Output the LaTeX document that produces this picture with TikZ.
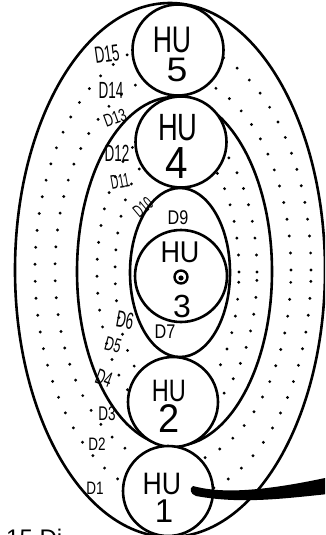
\documentclass[tikz,border=0pt]{standalone}
\usepackage{fontspec}
\setmainfont{Liberation Sans}
\begin{document}
\begin{tikzpicture}[x=1pt,y=-1pt,
  ring/.style={line width=2.6pt},
  dotring/.style={line width=3.2pt, line cap=round, dash pattern=on 0pt off 17pt},
  hucirc/.style={circle, draw, fill=white, line width=2.6pt, minimum size=91pt, inner sep=0pt},
  lbl/.style={inner sep=0pt, font=\fontsize{#1}{#1}\selectfont},
  dl/.style={inner sep=0pt, font=\fontsize{18}{18}\selectfont}
]
\useasboundingbox (0,0) rectangle (325,535);
\clip (0,0) rectangle (325,535);
% dotted rings
\draw[dotring] (173,270) ellipse [x radius=138pt, y radius=228pt];
\draw[dotring] (173,270) ellipse [x radius=118pt, y radius=195pt];
\draw[dotring] (177,272) ellipse [x radius=80pt, y radius=150pt];
\draw[dotring] (177,272) ellipse [x radius=62pt, y radius=130pt];
% solid ellipses
\draw[ring] (170,270) ellipse [x radius=155pt, y radius=267pt];
\draw[ring] (174.5,271.5) ellipse [x radius=97.5pt, y radius=174.5pt];
\draw[ring, fill=white] (180,272.5) ellipse [x radius=50pt, y radius=84.5pt];
% circles
\node[hucirc] (c5) at (178,50) {};
\node[hucirc] (c4) at (181,142) {};
\node[hucirc, minimum size=92pt] (c3) at (181,276) {};
\node[hucirc, minimum size=90pt] (c2) at (173,402) {};
\node[hucirc, minimum size=90pt] (c1) at (168,491) {};
% texts in circles
\node[lbl=37] (h5) at (172,40) {\scalebox{0.72}[1]{HU}};
\node[lbl=34] (n5) at (177,70) {\scalebox{1.1}[1]{5}};
\node[lbl=38] (h4) at (178,128) {\scalebox{0.72}[1]{HU}};
\node[lbl=45] (n4) at (177,163) {\scalebox{0.9}[1]{4}};
\node[lbl=30] (h3) at (180,252) {\scalebox{0.9}[1]{HU}};
\node[circle, draw, line width=2.4pt, minimum size=13pt, inner sep=0pt] (sym) at (181,277) {};
\fill (181,278) circle (2.6pt);
\node[lbl=32] (n3) at (182,306) {\scalebox{1}[1]{3}};
\node[lbl=31] (h2) at (169,391) {\scalebox{0.76}[1]{HU}};
\node[lbl=40] (n2) at (169,419) {\scalebox{0.95}[1]{2}};
\node[lbl=31] (h1) at (162,484) {\scalebox{0.86}[1]{HU}};
\node[lbl=33] (n1) at (164,511) {\scalebox{1}[1]{1}};
% D labels
\node[dl, rotate=8] (d15) at (107,54) {\scalebox{0.75}[1.3]{D15}};
\node[dl] (d14) at (111,90) {\scalebox{0.75}[1.3]{D14}};
\node[dl, rotate=20] (d13) at (115,118) {\scalebox{0.7}[1.0]{D13}};
\node[dl] (d12) at (117,153) {\scalebox{0.75}[1.3]{D12}};
\node[dl, rotate=10] (d11) at (120,181) {\scalebox{0.6}[1.1]{D11}};
\node[dl, rotate=40] (d10) at (143,207) {\scalebox{0.6}[1.0]{D10}};
\node[dl] (d9) at (178,218) {\scalebox{0.9}[1.1]{D9}};
\node[dl] (d7) at (165,332) {\scalebox{0.9}[1.1]{D7}};
\node[dl, rotate=-10] (d6) at (125,320) {\scalebox{0.75}[1.3]{D6}};
\node[dl, rotate=-15] (d5) at (113,345) {\scalebox{0.7}[1.1]{D5}};
\node[dl, rotate=-20] (d4) at (104,378) {\scalebox{0.7}[1.2]{D4}};
\node[dl] (d3) at (107,414) {\scalebox{0.75}[1.1]{D3}};
\node[dl] (d2) at (97,444) {\scalebox{0.75}[1.0]{D2}};
\node[dl] (d1) at (95,488) {\scalebox{0.75}[1.0]{D1}};
% thick stroke
\coordinate (s) at (193,486);
\coordinate (e) at (325,478);
\fill (s) .. controls (215,492) and (250,494) .. (e)
  -- (328,494) .. controls (280,499) and (240,504) .. (196,496)
  .. controls (190,494) and (189,488) .. (s) -- cycle;
% bottom text (cut)
\node[inner sep=0pt, anchor=north west, font=\fontsize{24}{24}\selectfont] (cap) at (6,529) {15 Di};
\end{tikzpicture}
\end{document}
